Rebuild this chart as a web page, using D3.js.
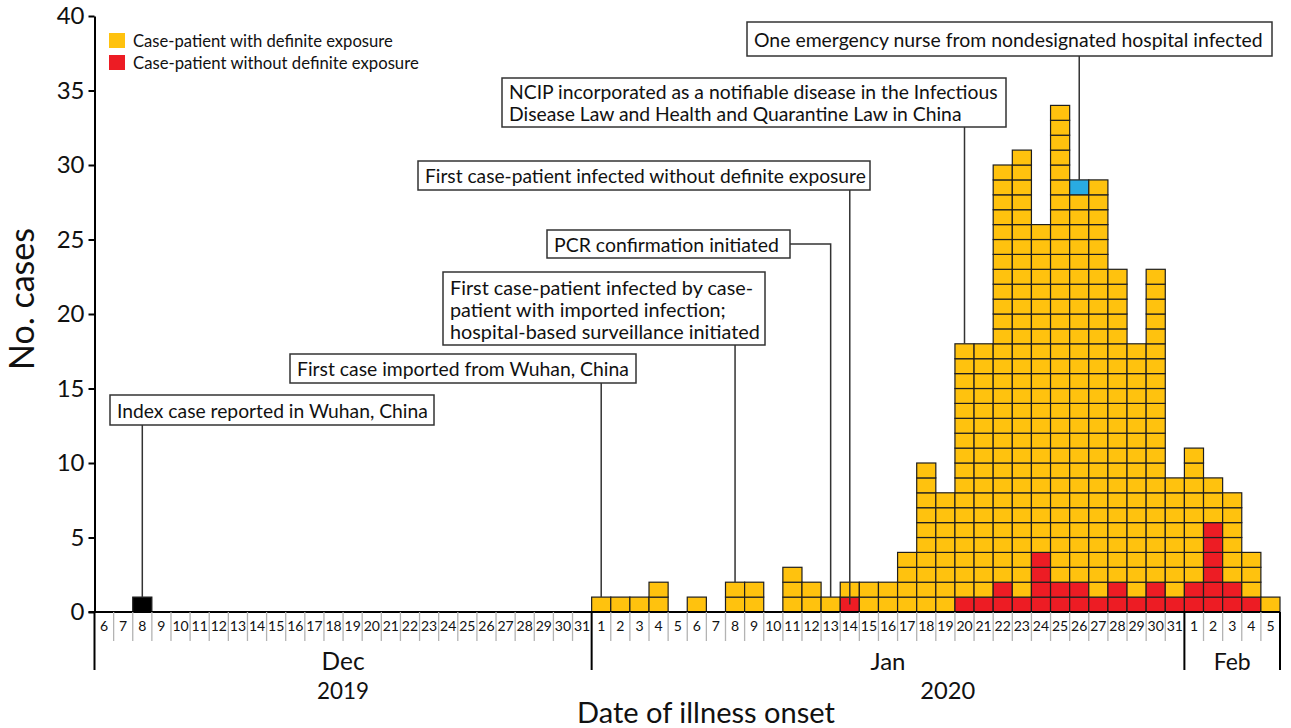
<!DOCTYPE html>
<html>
<head>
<meta charset="utf-8">
<script src="https://cdn.jsdelivr.net/npm/d3@7/dist/d3.min.js"></script>
<style>
  html, body { margin: 0; padding: 0; background: #fff; }
  svg { display: block; }
  text { font-family: Lato, "Open Sans", sans-serif; fill: #111; }
</style>
</head>
<body>
<svg id="chart" width="1291" height="728"></svg>
<script>
// ---------------- DATA ----------------
const decDays = [6,7,8,9,10,11,12,13,14,15,16,17,18,19,20,21,22,23,24,25,26,27,28,29,30,31];
const janDays = [1,2,3,4,5,6,7,8,9,10,11,12,13,14,15,16,17,18,19,20,21,22,23,24,25,26,27,28,29,30,31];
const febDays = [1,2,3,4,5];
const monthLabels = ["Dec", "Jan", "Feb"];
const yearLabels = ["2019", "2020"];
const yTicks = [0,5,10,15,20,25,30,35,40];

// Case-patients with definite exposure (yellow), per day
const definiteDec = [0,0,0,0,0,0,0,0,0,0,0,0,0,0,0,0,0,0,0,0,0,0,0,0,0,0];
const definiteJan = [1,1,1,2,0,1,0,2,2,0,3,2,1,1,2,2,4,10,8,17,17,28,30,22,32,26,28,21,17,21,8];
const definiteFeb = [9,3,6,3,1];
// Case-patients without definite exposure (red), per day
const withoutDec = [0,0,0,0,0,0,0,0,0,0,0,0,0,0,0,0,0,0,0,0,0,0,0,0,0,0];
const withoutJan = [0,0,0,0,0,0,0,0,0,0,0,0,0,1,0,0,0,0,0,1,1,2,1,4,2,2,1,2,1,2,1];
const withoutFeb = [2,6,2,1,0];
// Special cases
const indexCase = [{ key: "Dec-8", n: 1 }];        // black
const nurseCase = [{ key: "Jan-26", n: 1 }];       // blue

const legendLabels = ["Case-patient with definite exposure", "Case-patient without definite exposure"];

const annotations = [
  { lines: ["Index case reported in Wuhan, China"], key: "Dec-8", box: [110, 395, 434, 425], tw: 311 },
  { lines: ["First case imported from Wuhan, China"], key: "Jan-1", box: [290, 354, 636, 383], tw: 332 },
  { lines: ["First case-patient infected by case-", "patient with imported infection;", "hospital-based surveillance initiated"], key: "Jan-8", box: [443, 272, 765, 345], tw: 310 },
  { lines: ["PCR confirmation initiated"], key: "Jan-13", box: [547, 230, 790, 258], tw: 225, side: true },
  { lines: ["First case-patient infected without definite exposure"], key: "Jan-14", box: [418, 161, 870, 190], tw: 441, toRed: true },
  { lines: ["NCIP incorporated as a notifiable disease in the Infectious", "Disease Law and Health and Quarantine Law in China"], key: "Jan-20", box: [502, 78, 1006, 127], tw: 489 },
  { lines: ["One emergency nurse from nondesignated hospital infected"], key: "Jan-26", box: [747, 22, 1272, 56], tw: 509 }
];

// ---------------- BUILD ----------------
const days = [];
decDays.forEach((d, i) => days.push({ key: "Dec-" + d, label: d, month: 0, yellow: definiteDec[i], red: withoutDec[i] }));
janDays.forEach((d, i) => days.push({ key: "Jan-" + d, label: d, month: 1, yellow: definiteJan[i], red: withoutJan[i] }));
febDays.forEach((d, i) => days.push({ key: "Feb-" + d, label: d, month: 2, yellow: definiteFeb[i], red: withoutFeb[i] }));
days.forEach(d => {
  const ic = indexCase.find(c => c.key === d.key);
  const nc = nurseCase.find(c => c.key === d.key);
  d.black = ic ? ic.n : 0;
  d.blue = nc ? nc.n : 0;
  d.total = d.red + d.black + d.yellow + d.blue;
});

const COLORS = { red: "#ED1C24", black: "#000000", yellow: "#FFC20E", blue: "#29ABE2" };

const cells = [];
days.forEach(d => {
  let lvl = 0;
  ["red", "black", "yellow", "blue"].forEach(k => {
    for (let i = 0; i < d[k]; i++) cells.push({ key: d.key, level: lvl++, color: COLORS[k] });
  });
});

const svg = d3.select("#chart");
const x = d3.scaleBand().domain(days.map(d => d.key)).range([94.5, 1280]).padding(0);
const y = d3.scaleLinear().domain([0, 40]).range([612, 16]);
const x0 = x.range()[0], x1 = x.range()[1];
const bw = x.bandwidth();

function fitText(sel, target, base) {
  sel.attr("font-size", base);
  let w = 0;
  sel.each(function () { w = Math.max(w, this.getComputedTextLength()); });
  if (w > 0) sel.attr("font-size", base * target / w);
}

// Cells
svg.append("g").selectAll("rect").data(cells).join("rect")
  .attr("x", d => x(d.key))
  .attr("y", d => y(d.level + 1))
  .attr("width", bw)
  .attr("height", d => y(d.level) - y(d.level + 1))
  .attr("fill", d => d.color)
  .attr("stroke", "#1e1e1e")
  .attr("stroke-width", 1.2);

// Y axis
const yAxis = svg.append("g").attr("transform", `translate(${x0},0)`)
  .call(d3.axisLeft(y).tickValues(yTicks).tickSize(6).tickSizeOuter(0).tickPadding(4));
yAxis.select(".domain").attr("stroke", "#000").attr("stroke-width", 2);
yAxis.selectAll(".tick line").attr("stroke", "#000").attr("stroke-width", 2);
yAxis.selectAll(".tick text").attr("font-size", 24).attr("font-family", "Lato, 'Open Sans', sans-serif").attr("fill", "#111");

// Y title
const yt = svg.append("text").attr("transform", `translate(34,299) rotate(-90)`)
  .attr("text-anchor", "middle").text("No. cases");
fitText(yt, 142, 26);

// X baseline
svg.append("line").attr("x1", x0 - 6).attr("x2", x1).attr("y1", y(0)).attr("y2", y(0))
  .attr("stroke", "#000").attr("stroke-width", 2);

// Day separators
const sepG = svg.append("g");
days.forEach((d, i) => {
  if (i === 0) return;
  if (d.month !== days[i - 1].month) return;
  sepG.append("line").attr("x1", x(d.key)).attr("x2", x(d.key))
    .attr("y1", y(0)).attr("y2", y(0) + 29).attr("stroke", "#b3b3b3").attr("stroke-width", 1.3);
});

// Day labels via axis
const xAxis = svg.append("g").attr("transform", `translate(0,${y(0)})`)
  .call(d3.axisBottom(x).tickSize(0).tickPadding(9).tickFormat(k => days.find(d => d.key === k).label));
xAxis.select(".domain").remove();
xAxis.selectAll(".tick text").attr("font-size", 14).attr("font-family", "Lato, 'Open Sans', sans-serif").attr("fill", "#111");

// Month dividers
const monthStarts = [x("Dec-6"), x("Jan-1"), x("Feb-1"), x1];
monthStarts.forEach(mx => {
  svg.append("line").attr("x1", mx).attr("x2", mx).attr("y1", y(0)).attr("y2", 670)
    .attr("stroke", "#000").attr("stroke-width", 2);
});

// Month labels
const monthTargets = [43, 35, 37];
monthLabels.forEach((m, i) => {
  const cx = (monthStarts[i] + monthStarts[i + 1]) / 2;
  const t = svg.append("text").attr("x", cx).attr("y", 670).attr("text-anchor", "middle").text(m);
  fitText(t, monthTargets[i], 22);
});
// Year labels
const yearCenters = [(monthStarts[0] + monthStarts[1]) / 2, (monthStarts[1] + monthStarts[3]) / 2 + 12];
const yearTargets = [52, 55];
yearLabels.forEach((yl, i) => {
  const t = svg.append("text").attr("x", yearCenters[i]).attr("y", 699).attr("text-anchor", "middle").text(yl);
  fitText(t, yearTargets[i], 22);
});

// X title
const xt = svg.append("text").attr("x", 706).attr("y", 723).attr("text-anchor", "middle").text("Date of illness onset");
fitText(xt, 258, 26);

// Legend
const legG = svg.append("g");
[COLORS.yellow, COLORS.red].forEach((c, i) => {
  legG.append("rect").attr("x", 109).attr("y", 33 + i * 22).attr("width", 16).attr("height", 15).attr("fill", c);
  const t = legG.append("text").attr("x", 133).attr("y", 41 + i * 22).attr("dominant-baseline", "central").text(legendLabels[i]);
  fitText(t, i === 0 ? 260 : 286, 16);
});

// Annotations
const annG = svg.append("g");
annotations.forEach(a => {
  const [bx0, by0, bx1, by1] = a.box;
  const d = days.find(dd => dd.key === a.key);
  const cx = x(a.key) + bw / 2;
  const topY = a.toRed ? (y(0) + y(1)) / 2 : y(d.total);
  if (a.side) {
    const my = (by0 + by1) / 2;
    annG.append("polyline")
      .attr("points", `${bx1},${my} ${cx},${my} ${cx},${topY}`)
      .attr("fill", "none").attr("stroke", "#333").attr("stroke-width", 1.5);
  } else {
    annG.append("line").attr("x1", cx).attr("x2", cx).attr("y1", by1).attr("y2", topY)
      .attr("stroke", "#333").attr("stroke-width", 1.5);
  }
  annG.append("rect").attr("x", bx0).attr("y", by0).attr("width", bx1 - bx0).attr("height", by1 - by0)
    .attr("fill", "#fff").attr("stroke", "#333").attr("stroke-width", 1.5);
  const n = a.lines.length;
  const lh = 22;
  const midY = (by0 + by1) / 2;
  const ts = annG.selectAll(null).data(a.lines).join("text")
    .attr("x", bx0 + 7)
    .attr("y", (l, i) => midY + (i - (n - 1) / 2) * lh)
    .attr("dominant-baseline", "central")
    .text(l => l);
  fitText(ts, a.tw, 19);
});
</script>
</body>
</html>
